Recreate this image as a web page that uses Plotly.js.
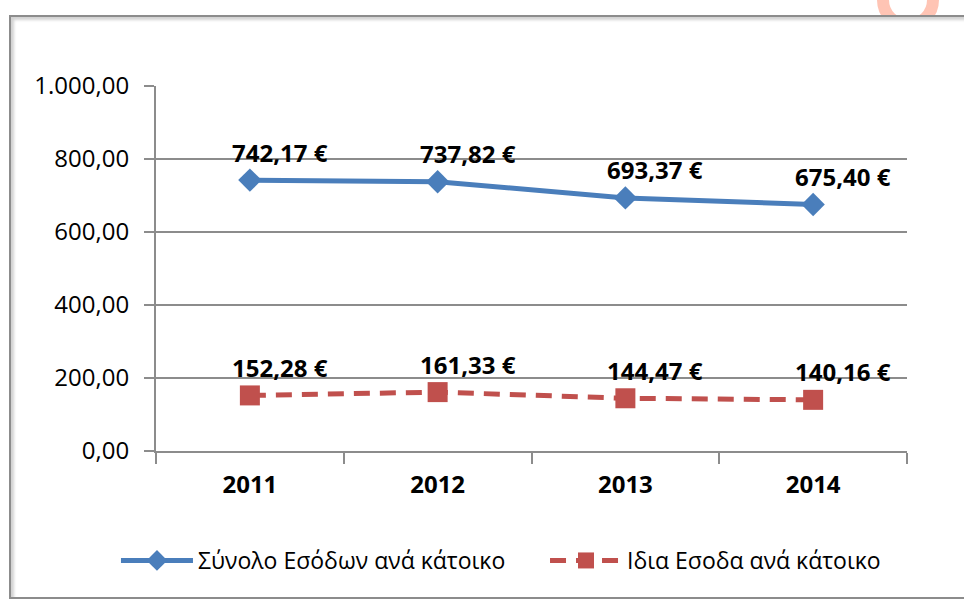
<!DOCTYPE html>
<html>
<head>
<meta charset="utf-8">
<script src="https://cdn.plot.ly/plotly-3.0.1.min.js"></script>
<style>
  html, body { margin: 0; padding: 0; background: #ffffff; width: 964px; height: 599px; overflow: hidden; }
  #ring { position: absolute; left: 877px; top: -31px; width: 38px; height: 38px; border: 12px solid #ffc4b4; border-radius: 50%; z-index: 0; }
  #frame { position: absolute; left: 9px; top: 15px; width: 960px; height: 580px; border: 2px solid #8c8c8c; background: #ffffff;
           box-shadow: inset 3px 3px 3px rgba(0,0,0,0.18); z-index: 1; }
  #chart { position: absolute; left: 0; top: 0; width: 964px; height: 599px; z-index: 2; }
</style>
</head>
<body>
<div id="ring"></div>
<div id="frame"></div>
<div id="chart"></div>
<script>
const years = ['2011', '2012', '2013', '2014'];
const totalIncome = [742.17, 737.82, 693.37, 675.40];
const ownIncome = [152.28, 161.33, 144.47, 140.16];
const seriesNames = ['Σύνολο Εσόδων ανά κάτοικο', 'Ιδια Εσοδα ανά κάτοικο'];
const yTicks = [0, 200, 400, 600, 800, 1000];

const FONT = 'Open Sans, Noto Sans, DejaVu Sans, sans-serif';
const BLUE = '#4a7ebb';
const RED = '#c0504d';

function euro(v) { return v.toFixed(2).replace('.', ',') + ' €'; }

const traces = [
  {
    type: 'scatter', mode: 'lines+markers', name: seriesNames[0],
    x: years, y: totalIncome, legend: 'legend',
    line: { color: BLUE, width: 5 },
    marker: { symbol: 'diamond', size: 18, color: BLUE },
    hoverinfo: 'skip'
  },
  {
    type: 'scatter', mode: 'lines+markers', name: seriesNames[1],
    x: years, y: ownIncome, legend: 'legend2',
    line: { color: RED, width: 5, dash: '16px,10px' },
    marker: { symbol: 'square', size: 20, color: RED },
    hoverinfo: 'skip'
  }
];

const annotations = [];
[totalIncome, ownIncome].forEach(function (vals) {
  vals.forEach(function (v, i) {
    annotations.push({
      x: i, y: v, xref: 'x', yref: 'y',
      text: '<b>' + euro(v) + '</b>', showarrow: false,
      xshift: 30, yshift: 28,
      font: { family: FONT, size: 24, color: '#000000' }
    });
  });
});

const legendBase = {
  orientation: 'h', xanchor: 'left', y: -0.30, yanchor: 'middle',
  font: { family: FONT, size: 23, color: '#000000' },
  itemwidth: 72, bgcolor: 'rgba(0,0,0,0)'
};

const layout = {
  width: 964, height: 599,
  paper_bgcolor: 'rgba(0,0,0,0)', plot_bgcolor: 'rgba(0,0,0,0)',
  separators: ',.',
  margin: { l: 156, r: 57, t: 86, b: 148 },
  font: { family: FONT, color: '#000000' },
  showlegend: true,
  legend: Object.assign({}, legendBase, { x: -0.0533 }),
  legend2: Object.assign({}, legendBase, { x: 0.518 }),
  xaxis: {
    type: 'category', range: [-0.5, 3.5],
    showline: true, linecolor: '#8c8c8c', linewidth: 2,
    ticks: 'outside', tickson: 'boundaries', ticklen: 11, tickcolor: '#8c8c8c', tickwidth: 2,
    showgrid: false, zeroline: false,
    tickfont: { family: FONT, size: 24, color: '#000000', weight: 'bold' },
    ticklabelstandoff: 11
  },
  yaxis: {
    range: [0, 1000], tickvals: yTicks, tickformat: ',.2f',
    showline: true, linecolor: '#8c8c8c', linewidth: 2,
    ticks: 'outside', ticklen: 10, tickcolor: '#8c8c8c', tickwidth: 2,
    showgrid: true, gridcolor: '#8c8c8c', gridwidth: 2, zeroline: false,
    tickfont: { family: FONT, size: 24, color: '#000000' },
    ticklabelstandoff: 10
  },
  annotations: annotations
};

Plotly.newPlot('chart', traces, layout, { displayModeBar: false });
</script>
</body>
</html>
